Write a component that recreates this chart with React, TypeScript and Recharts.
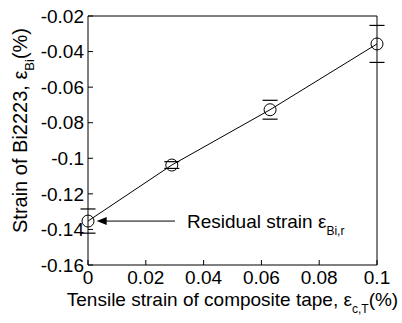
import React from 'react';
import { ScatterChart, Scatter, XAxis, YAxis, ReferenceLine, Label } from 'recharts';

// tensile strain of composite tape (%) vs strain of Bi2223 (%)
const strainX = [0, 0.029, 0.063, 0.1];
const strainBi = [-0.1353, -0.1038, -0.0727, -0.0357];
const errBi = [0.0068, 0.0019, 0.0053, 0.0104];

const xTicks = [0, 0.02, 0.04, 0.06, 0.08, 0.1];
const yTicks = [-0.16, -0.14, -0.12, -0.1, -0.08, -0.06, -0.04, -0.02];

// arrow of the "Residual strain" note, in data units
const arrowFrom = 0.0301;
const arrowTo = 0.003;

const FONT = '"Liberation Sans", Arial, Helvetica, sans-serif';

const points = strainX.map((x, i) => ({ x, y: strainBi[i] }));
const capsUp = strainX.map((x, i) => ({ x, y: strainBi[i] + errBi[i] }));
const capsDown = strainX.map((x, i) => ({ x, y: strainBi[i] - errBi[i] }));

const fmt = (v: number) => String(Number(v.toFixed(2)));

const Ring = (p: any) => (
  <circle cx={p.cx} cy={p.cy} r={6} fill="none" stroke="#000" strokeWidth={1} />
);

const Cap = (p: any) => (
  <line x1={p.cx - 7.5} x2={p.cx + 7.5} y1={p.cy} y2={p.cy} stroke="#000" strokeWidth={1.2} />
);

// mirrored axes: tick marks only, no labels
const NoLabel = () => <g />;

const Arrow = (p: any) => {
  const { x1, y1, x2 } = p;
  return (
    <g>
      <line x1={x1 + 8} y1={y1} x2={x2} y2={y1} stroke="#000" strokeWidth={1} />
      <polygon points={`${x1},${y1} ${x1 + 10},${y1 - 4} ${x1 + 10},${y1 + 4}`} fill="#000" />
      <text x={x2 + 12} y={y1 + 7} fontSize={19} fontFamily={FONT} fill="#000">
        Residual strain ε
        <tspan fontSize={12} dy={7}>Bi,r</tspan>
      </text>
    </g>
  );
};

const XTitle = ({ viewBox }: any) => (
  <text
    x={viewBox.x + viewBox.width / 2}
    y={viewBox.y + 41}
    textAnchor="middle"
    fontSize={19}
    fontFamily={FONT}
    fill="#000"
  >
    Tensile strain of composite tape, ε
    <tspan fontSize={12} dy={7}>c,T</tspan>
    <tspan dy={-7}>(%)</tspan>
  </text>
);

const YTitle = ({ viewBox }: any) => {
  const cx = 27;
  const cy = viewBox.y + viewBox.height / 2 - 10;
  return (
    <text
      x={cx}
      y={cy}
      transform={`rotate(-90, ${cx}, ${cy})`}
      textAnchor="middle"
      fontSize={20}
      fontFamily={FONT}
      fill="#000"
    >
      Strain of Bi2223, ε
      <tspan fontSize={13} dy={7}>Bi</tspan>
      <tspan dy={-7}>(%)</tspan>
    </text>
  );
};

const tickStyle = { fill: '#000', fontSize: 19, fontFamily: FONT };

export default function App() {
  return (
    <div style={{ position: 'absolute', left: 0, top: 0, background: '#fff' }}>
      <ScatterChart width={402} height={323} margin={{ top: 15, right: 24, bottom: 0, left: 0 }}>
        <XAxis
          type="number"
          dataKey="x"
          domain={[0, 0.1]}
          ticks={xTicks}
          interval={0}
          tickFormatter={fmt}
          tickSize={-5}
          tickMargin={11}
          height={58}
          stroke="#000"
          tick={tickStyle}
        >
          <Label content={XTitle} />
        </XAxis>
        <XAxis
          xAxisId="top"
          orientation="top"
          type="number"
          domain={[0, 0.1]}
          ticks={xTicks}
          interval={0}
          tick={NoLabel}
          tickSize={-5}
          height={1}
          stroke="#000"
        />
        <YAxis
          type="number"
          dataKey="y"
          domain={[-0.16, -0.02]}
          ticks={yTicks}
          interval={0}
          tickFormatter={fmt}
          tickSize={-5}
          tickMargin={9}
          width={88}
          stroke="#000"
          tick={tickStyle}
        >
          <Label content={YTitle} />
        </YAxis>
        <YAxis
          yAxisId="right"
          orientation="right"
          type="number"
          domain={[-0.16, -0.02]}
          ticks={yTicks}
          interval={0}
          tick={NoLabel}
          tickSize={-5}
          width={1}
          stroke="#000"
        />
        <Scatter
          data={points}
          shape={Ring}
          line={{ stroke: '#000', strokeWidth: 1 }}
          lineType="joint"
          isAnimationActive={false}
        />
        <Scatter data={capsUp} shape={Cap} isAnimationActive={false} />
        <Scatter data={capsDown} shape={Cap} isAnimationActive={false} />
        <ReferenceLine
          segment={[
            { x: arrowTo, y: strainBi[0] },
            { x: arrowFrom, y: strainBi[0] },
          ]}
          shape={Arrow}
        />
      </ScatterChart>
    </div>
  );
}
